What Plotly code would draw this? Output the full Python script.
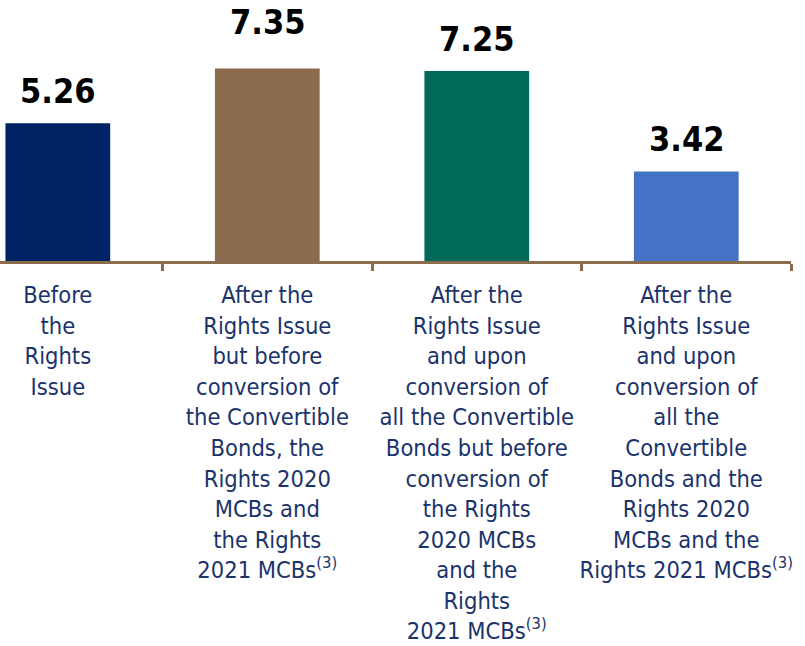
import plotly.graph_objects as go

categories = ["c1", "c2", "c3", "c4"]
category_labels = [
    "Before<br>the<br>Rights<br>Issue",
    "After the<br>Rights Issue<br>but before<br>conversion of<br>the Convertible<br>Bonds, the<br>Rights 2020<br>MCBs and<br>the Rights<br>2021 MCBs<sup>(3)</sup>",
    "After the<br>Rights Issue<br>and upon<br>conversion of<br>all the Convertible<br>Bonds but before<br>conversion of<br>the Rights<br>2020 MCBs<br>and the<br>Rights<br>2021 MCBs<sup>(3)</sup>",
    "After the<br>Rights Issue<br>and upon<br>conversion of<br>all the<br>Convertible<br>Bonds and the<br>Rights 2020<br>MCBs and the<br>Rights 2021 MCBs<sup>(3)</sup>",
]
values = [5.26, 7.35, 7.25, 3.42]
bar_colors = ["#002366", "#8B6B4C", "#00695A", "#4472C4"]
label_shift = [10, 24, 10, 10]

FONT = "DejaVu Sans Condensed, DejaVu Sans, sans-serif"

fig = go.Figure()
fig.add_trace(go.Bar(
    x=categories, y=values,
    marker=dict(color=bar_colors, line=dict(width=0)),
    hoverinfo="skip",
))

for c, v, s in zip(categories, values, label_shift):
    fig.add_annotation(
        x=c, y=v, text="<b>%.2f</b>" % v, showarrow=False,
        yanchor="bottom", yshift=s,
        font=dict(family=FONT, size=34, color="#000000"),
    )

fig.update_layout(
    width=805, height=646,
    margin=dict(l=0, r=14, t=0, b=385, autoexpand=False),
    paper_bgcolor="white", plot_bgcolor="white",
    bargap=0.5, showlegend=False,
    font=dict(family=FONT, size=23.5, color="#1B336B"),
)
fig.update_xaxes(
    type="category",
    range=[-0.276, 3.5], automargin=False,
    tickmode="array", tickvals=categories, ticktext=category_labels,
    tickson="boundaries", ticks="outside", ticklen=7, tickwidth=3,
    tickcolor="#8B6D4E",
    showline=True, linecolor="#8B6D4E", linewidth=3,
    showgrid=False, zeroline=False,
    tickangle=0, ticklabelstandoff=11,
    tickfont=dict(family=FONT, size=23.5, color="#1B336B"),
)
fig.update_yaxes(
    range=[0, 9.96], visible=False, showgrid=False, zeroline=False,
    automargin=False,
)

fig.write_html("out.html")
